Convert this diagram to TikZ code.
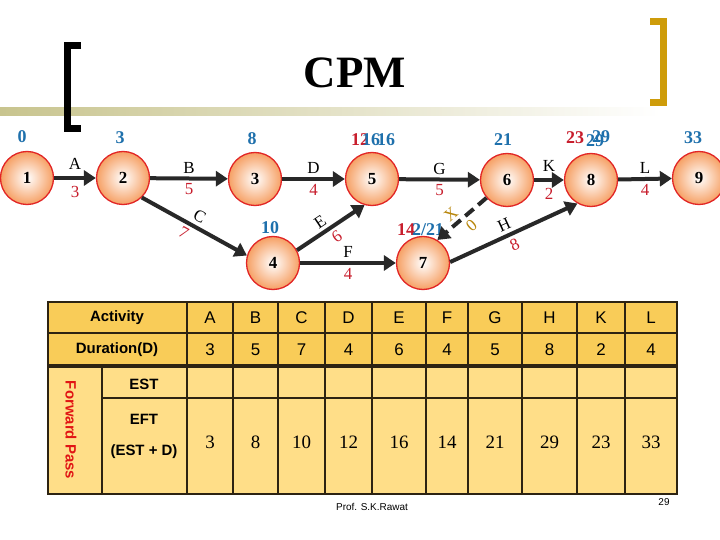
\documentclass[tikz,border=0pt]{standalone}
\usepackage{fontspec}
\setmainfont{Liberation Serif}
\setsansfont{Liberation Sans}
\usetikzlibrary{arrows.meta}

\definecolor{evtred}{RGB}{226,38,38}
\definecolor{evtorange}{RGB}{246,160,100}
\definecolor{estblue}{RGB}{30,112,172}
\definecolor{durred}{RGB}{200,30,45}
\definecolor{passred}{RGB}{225,20,20}
\definecolor{dummygold}{RGB}{184,134,11}
\definecolor{arrowgray}{RGB}{40,40,40}
\definecolor{hdrgold}{RGB}{249,204,88}
\definecolor{bodygold}{RGB}{255,222,136}
\definecolor{gridbrown}{RGB}{45,35,18}
\definecolor{bandkhaki}{RGB}{200,196,142}
\definecolor{brackgold}{RGB}{206,156,10}

\newcommand{\fsz}[1]{\fontsize{#1}{#1}\selectfont}

\tikzset{
  event/.style={circle, draw=evtred, line width=1.3bp, minimum size=53bp, inner sep=0pt,
    inner color=white, outer color=evtorange, font=\bfseries\fsz{17}},
  act/.style={draw=arrowgray, line width=4bp, -{Triangle[length=12bp,width=15bp]}},
  dummy/.style={act, dash pattern=on 11bp off 6bp},
  actname/.style={font=\fsz{17}, text=black},
  actdur/.style={font=\fsz{17}, text=durred},
  evtime/.style={font=\bfseries\fsz{18}, text=estblue},
  evlate/.style={font=\bfseries\fsz{18}, text=durred},
  grid/.style={draw=gridbrown, line width=2bp},
  cellhead/.style={font=\sffamily\bfseries\fsz{15}},
  cellval/.style={font=\sffamily\fsz{17}},
  cellres/.style={font=\fsz{19}},
}

\begin{document}
\begin{tikzpicture}[x=1bp, y=-1bp]
        \fill[white] (0,0) rectangle (720,540);
        \useasboundingbox (0,0) rectangle (720,540);

        % title bar
        \shade[left color=bandkhaki, middle color=bandkhaki!85!white, right color=white] (0,108) rectangle (660,116);
        \draw[line width=7bp] (81,45.5) -- (67.5,45.5) -- (67.5,128.5) -- (81,128.5);
        \draw[brackgold, line width=7bp] (650,21.5) -- (663.5,21.5) -- (663.5,102.5) -- (650,102.5);
        \node[font=\bfseries\fsz{45}] (title) at (355,73) {CPM};

        % events
        \node[event] (n1) at (27,178) {1};
        \node[event] (n2) at (123,178) {2};
        \node[event] (n3) at (255,179) {3};
        \node[event] (n4) at (273,263) {4};
        \node[event] (n5) at (372,179) {5};
        \node[event] (n6) at (507,180) {6};
        \node[event] (n7) at (423,263) {7};
        \node[event] (n8) at (591,180) {8};
        \node[event] (n9) at (699,178) {9};

        % earliest times
        \node[evtime] (t1) at (22,137) {0};
        \node[evtime] (t2) at (120,138) {3};
        \node[evtime] (t3) at (252,139) {8};
        \node[evtime] (t4) at (270,228) {10};
        \node[evlate] (t5a) at (360,140) {12};
        \node[evtime] (t5b) at (371,140) {16};
        \node[evtime] (t5c) at (386,140) {16};
        \node[evtime] (t6) at (503,140) {21};
        \node[evlate] (t7a) at (406,230) {14};
        \node[evtime] (t7b) at (428,230) {2/21};
        \node[evlate] (t8a) at (575,138) {23};
        \node[evtime] (t8b) at (595,141) {29};
        \node[evtime] (t8c) at (601,137) {29};
        \node[evtime] (t9) at (693,138) {33};

        % activities
        \draw[act] (n1) -- node[actname, above=3bp] (lA) {A} node[actdur, below=3bp] (dA) {3} (n2);
        \draw[act] (n2) -- node[actname, above] (lB) {B} node[actdur, below] (dB) {5} (n3);
        \draw[act] (n2.314) -- node[actname, pos=.5, sloped, above] (lC) {C}
            node[actdur, pos=.45, sloped, below] (dC) {7} (n4.164);
        \draw[act] (n3) -- node[actname, above] (lD) {D} node[actdur, below] (dD) {4} (n5);
        \draw[act] (n4.28) -- node[actname, pos=.43, sloped, above] (lE) {E}
            node[actdur, pos=.5, sloped, below] (dE) {6} (n5.254);
        \draw[act] (n4) -- node[actname, above] (lF) {F} node[actdur, below] (dF) {4} (n7);
        \draw[act] (n5) -- node[actname, above] (lG) {G} node[actdur, below] (dG) {5} (n6);
        \draw[dummy] (n6.221) -- node[actname, text=dummygold, pos=.58, sloped, above] (lX) {X}
            node[actname, text=dummygold, pos=.45, sloped, below] (dX) {0} (n7.58);
        \draw[act] (n7.2) -- node[actname, pos=.46, sloped, above] (lH) {H}
            node[actdur, pos=.47, sloped, below] (dH) {8} (n8.240);
        \draw[act] (n6) -- node[actname, above=3bp] (lK) {K} node[actdur, below=3bp] (dK) {2} (n8);
        \draw[act] (n8) -- node[actname, above] (lL) {L} node[actdur, below] (dL) {4} (n9);

        % table
        \fill[hdrgold] (48,302) rectangle (677,366);
        \fill[bodygold] (48,366) rectangle (677,494);
        \draw[grid] (48,333) -- (677,333);
        \draw[grid] (102,398) -- (677,398);
        \draw[grid] (102,366) -- (102,494);
        \draw[grid] (187,302) -- (187,494) (233,302) -- (233,494) (278,302) -- (278,494)
            (325,302) -- (325,494) (372,302) -- (372,494) (426,302) -- (426,494)
            (468,302) -- (468,494) (522,302) -- (522,494) (577,302) -- (577,494)
            (625,302) -- (625,494);
        \draw[grid, line width=4bp] (48,366) -- (677,366);
        \draw[grid, line width=2.5bp] (48,302) rectangle (677,494);

        \node[cellhead] (hact) at (117,318) {Activity};
        \node[cellhead] (hdur) at (117,350) {Duration(D)};
        \node[cellhead] (hest) at (144,384) {EST};
        \node[cellhead] (heft) at (144,419) {EFT};
        \node[cellhead] (hsum) at (144,452) {(EST + D)};
        \node[cellhead, text=passred, rotate=-90] (hpass) at (71,430) {Forward Pass};

        \node[cellval] (aA) at (210,318) {A};
        \node[cellval] (aB) at (255.5,318) {B};
        \node[cellval] (aC) at (301.5,318) {C};
        \node[cellval] (aD) at (348.5,318) {D};
        \node[cellval] (aE) at (399,318) {E};
        \node[cellval] (aF) at (447,318) {F};
        \node[cellval] (aG) at (495,318) {G};
        \node[cellval] (aH) at (549.5,318) {H};
        \node[cellval] (aK) at (601,318) {K};
        \node[cellval] (aL) at (651,318) {L};

        \node[cellval] (uA) at (210,350) {3};
        \node[cellval] (uB) at (255.5,350) {5};
        \node[cellval] (uC) at (301.5,350) {7};
        \node[cellval] (uD) at (348.5,350) {4};
        \node[cellval] (uE) at (399,350) {6};
        \node[cellval] (uF) at (447,350) {4};
        \node[cellval] (uG) at (495,350) {5};
        \node[cellval] (uH) at (549.5,350) {8};
        \node[cellval] (uK) at (601,350) {2};
        \node[cellval] (uL) at (651,350) {4};

        \node[cellres] (fA) at (210,442) {3};
        \node[cellres] (fB) at (255.5,442) {8};
        \node[cellres] (fC) at (301.5,442) {10};
        \node[cellres] (fD) at (348.5,442) {12};
        \node[cellres] (fE) at (399,442) {16};
        \node[cellres] (fF) at (447,442) {14};
        \node[cellres] (fG) at (495,442) {21};
        \node[cellres] (fH) at (549.5,442) {29};
        \node[cellres] (fK) at (601,442) {23};
        \node[cellres] (fL) at (651,442) {33};

        % footer
        \node[font=\sffamily\fsz{10}] (author) at (372,507) {Prof. S.K.Rawat};
        \node[font=\sffamily\fsz{10}] (pageno) at (664,502) {29};
\end{tikzpicture}
\end{document}
